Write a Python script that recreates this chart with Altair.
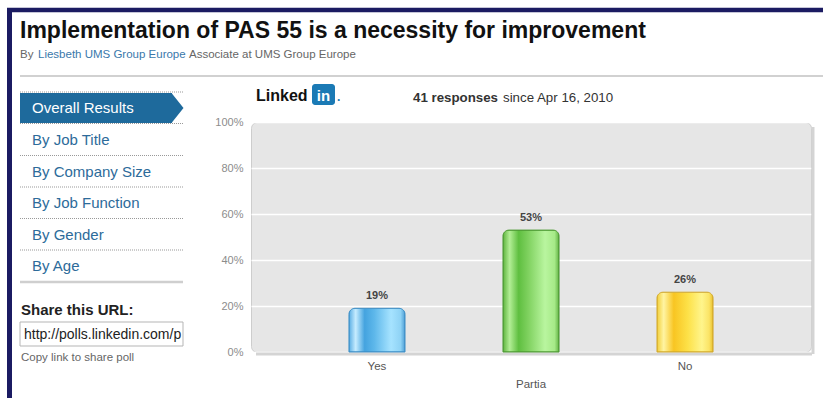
import altair as alt
import pandas as pd

# ---------------- data ----------------
categories = ["Yes", "Partia", "No"]
percents = [19, 53, 26]
y_ticks = [0, 20, 40, 60, 80, 100]
menu_items = ["By Job Title", "By Company Size", "By Job Function", "By Gender", "By Age"]
title_text = "Implementation of PAS 55 is a necessity for improvement"
responses = "41 responses"
since_text = "since Apr 16, 2010"

FONT = "Liberation Sans"
OX, OY = 251, 122      # plot origin in page pixels
W, H = 560, 230        # plot area size

df = pd.DataFrame({"choice": categories, "pct": percents,
                   "label": [f"{p}%" for p in percents]})
base = alt.Chart(df)
ONE = alt.Data(values=[{}])


def txt(s, x, y, size=12, color="#333", weight="normal", align="left",
        baseline="alphabetic", **kw):
    return alt.Chart(ONE).mark_text(
        text=s, align=align, baseline=baseline, fontSize=size, font=FONT,
        fontWeight=weight, color=color, **kw
    ).encode(x=alt.value(x - OX), y=alt.value(y - OY))


def rule(x1, y1, x2, y2, color, width=1, dash=None):
    kw = dict(color=color, strokeWidth=width)
    if dash:
        kw["strokeDash"] = dash
    return alt.Chart(ONE).mark_rule(**kw).encode(
        x=alt.value(x1 - OX), x2=alt.value(x2 - OX),
        y=alt.value(y1 - OY), y2=alt.value(y2 - OY))


def rect(x1, y1, x2, y2, **kw):
    return alt.Chart(ONE).mark_rect(**kw).encode(
        x=alt.value(x1 - OX), x2=alt.value(x2 - OX),
        y=alt.value(y1 - OY), y2=alt.value(y2 - OY))


def grad(stops):
    return alt.Gradient(gradient="linear", x1=0, x2=1, y1=0, y2=0,
                        stops=[alt.GradientStop(offset=o, color=c) for o, c in stops])


bar_styles = {
    "Yes": (grad([(0, "#5aaee4"), (0.12, "#c6ecff"), (0.28, "#44a3df"),
                  (0.45, "#5db7ea"), (0.75, "#a6e3ff"), (0.92, "#8fd3f5"), (1, "#4f9fd6")]),
            "#3e8fc6"),
    "Partia": (grad([(0, "#5eb43e"), (0.12, "#b2ee95"), (0.28, "#5fbf40"),
                     (0.45, "#7fd15f"), (0.75, "#b9f59f"), (0.92, "#a6ea88"), (1, "#63b345")]),
               "#4e9a35"),
    "No": (grad([(0, "#f2cf3a"), (0.12, "#fff4a2"), (0.3, "#f8c522"),
                 (0.55, "#fde148"), (0.8, "#fff58c"), (0.93, "#fbe466"), (1, "#e9c02f")]),
           "#d3aa2c"),
}

x_enc = alt.X("choice:N", sort=categories, axis=None,
              scale=alt.Scale(paddingInner=0.636, paddingOuter=0.636))
y_enc = alt.Y("pct:Q", scale=alt.Scale(domain=[0, 100], nice=False),
              axis=alt.Axis(values=y_ticks, labelExpr="datum.value + '%'", title=None,
                            domain=False, ticks=False, grid=True, gridColor="white",
                            gridWidth=1.5, labelColor="#8c8c8c", labelFontSize=11,
                            labelPadding=8, labelFont=FONT))

layers = []

# shadow of the plot panel
layers.append(rule(OX + W + 2, OY + 5, OX + W + 2, OY + H + 2, "#d4d4d4", 3))
layers.append(rule(OX + 5, OY + H + 2, OX + W + 1, OY + H + 2, "#d4d4d4", 3))

# bars
for c in categories:
    fill, stroke = bar_styles[c]
    layers.append(
        base.transform_filter(alt.datum.choice == c).mark_bar(
            fill=fill, stroke=stroke, strokeWidth=1,
            cornerRadiusTopLeft=6, cornerRadiusTopRight=6
        ).encode(x=x_enc, y=y_enc)
    )

# value labels
layers.append(
    base.mark_text(dy=-7, baseline="bottom", fontWeight="bold", fontSize=11,
                   color="#444", font=FONT).encode(x=x_enc, y=y_enc, text="label:N")
)

# category labels (staggered)
layers.append(
    base.transform_filter(alt.datum.choice != "Partia").mark_text(
        baseline="middle", fontSize=11.5, color="#555", font=FONT
    ).encode(x=x_enc, y=alt.value(245), text="choice:N")
)
layers.append(
    base.transform_filter(alt.datum.choice == "Partia").mark_text(
        baseline="middle", fontSize=11.5, color="#555", font=FONT
    ).encode(x=x_enc, y=alt.value(263), text="choice:N")
)

# navy frame
layers.append(rule(9.5, 8, 9.5, 398, "#1b1b62", 5))
layers.append(rule(7, 10, 823, 10, "#1b1b62", 4.5))

# header
layers.append(txt(title_text, 20, 38, size=23, color="#111", weight="bold"))
layers.append(txt("By", 20, 58, size=11.5, color="#666"))
layers.append(txt("Liesbeth UMS Group Europe", 38, 58, size=11.5, color="#3a78ab"))
layers.append(txt("Associate at UMS Group Europe", 189, 58, size=11.5, color="#666"))
layers.append(rule(20, 76, 823, 76, "#c2c2c2", 1.5))

# LinkedIn logo + response count
layers.append(txt("Linked", 256, 101, size=16, color="#111", weight="bold"))
layers.append(rect(312, 84, 335, 105, fill="#1b7ab5", cornerRadius=3))
layers.append(txt("in", 323.5, 101, size=15, color="white", weight="bold", align="center"))
layers.append(txt(".", 337, 101, size=12, color="#1b7ab5", weight="bold"))
layers.append(txt(responses, 413, 102, size=13.3, color="#333", weight="bold"))
layers.append(txt(since_text, 503, 102, size=13.3, color="#333"))

# sidebar
layers.append(rule(20, 92, 183, 92, "#999", 1, [1, 1]))
layers.append(rect(20, 93, 172, 123, fill="#1e6a9c"))
layers.append(
    alt.Chart(ONE).mark_point(shape="M0,-1L0.8,0L0,1Z", size=900, filled=True,
                              fill="#1e6a9c", strokeWidth=0, opacity=1)
    .encode(x=alt.value(171.5 - OX), y=alt.value(108 - OY))
)
layers.append(txt("Overall Results", 32, 108, size=15, color="white", baseline="middle"))
menu_y = [140, 171.5, 203, 234.5, 266]
sep_y = [123.5, 155.5, 187, 218.5, 250]
for item, yy, sy in zip(menu_items, menu_y, sep_y):
    layers.append(rule(20, sy, 183, sy, "#999", 1, [1, 1]))
    layers.append(txt(item, 32, yy, size=15, color="#2d6b9a", baseline="middle"))
layers.append(rule(20, 282, 183, 282, "#cfcfcf", 2.5))
layers.append(txt("Share this URL:", 21, 310, size=15, color="#222", weight="bold",
                  baseline="middle"))
layers.append(rect(20, 322, 183, 346, fill="white", stroke="#b5b5b5", strokeWidth=1))
layers.append(txt("http://polls.linkedin.com/p", 24, 334.5, size=14, color="#222",
                  baseline="middle", limit=158, ellipsis=""))
layers.append(txt("Copy link to share poll", 21, 358, size=11.5, color="#666",
                  baseline="middle"))

chart = alt.layer(*layers).properties(
    width=W, height=H, autosize="none",
    padding={"left": OX, "top": OY, "right": 823 - OX - W, "bottom": 398 - OY - H},
    background="white",
).configure_view(
    fill="#e6e6e6", stroke="#cdcdcd", strokeWidth=1, cornerRadius=6
)

chart.save("out.html", embed_options={"renderer": "svg", "actions": False})
